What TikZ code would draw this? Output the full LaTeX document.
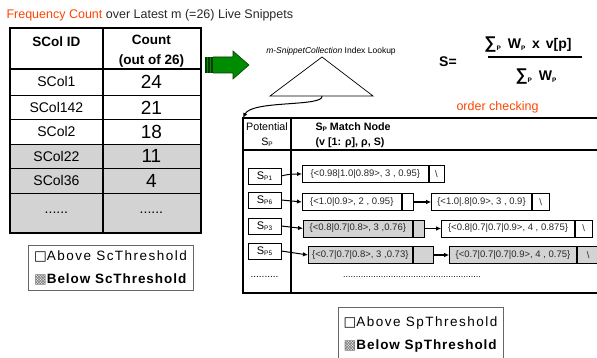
\documentclass[tikz,border=0pt]{standalone}
\usepackage{fontspec}
\setmainfont{Liberation Sans}
\newfontfamily\symbolfont{DejaVu Sans}
\newfontfamily\legendfont[LetterSpace=11,BoldFeatures={LetterSpace=7}]{Liberation Sans}
\usetikzlibrary{arrows.meta, positioning, calc}
\definecolor{titlered}{RGB}{255,69,0}
\definecolor{textgray}{RGB}{40,40,40}
\definecolor{cellgray}{RGB}{211,211,211}
\definecolor{arrowgreen}{RGB}{0,140,0}
\definecolor{arrowdark}{RGB}{0,60,0}
\newcommand{\smallsub}[1]{\raisebox{-1.2pt}{\fontsize{6.5}{6.5}\selectfont #1}}
\newcommand{\bigsum}{{\fontsize{17}{17}\selectfont ∑}}

\begin{document}
\begin{tikzpicture}[x=1pt,y=-1pt, >={Latex[length=5pt,width=4.5pt]},
    cell/.style={draw,line width=0.8pt,anchor=north west,inner sep=0pt,font=\fontsize{14}{16}\selectfont},
    headcell/.style={cell,align=center,font=\bfseries\fontsize{13.5}{20}\selectfont},
    numcell/.style={cell,font=\fontsize{19}{21}\selectfont},
    spbox/.style={draw,line width=0.6pt,minimum width=33pt,minimum height=16pt,inner sep=0pt,font=\fontsize{11}{12}\selectfont},
    rec/.style={draw,line width=0.6pt,minimum height=17pt,inner sep=0pt,anchor=west,text=textgray,font=\fontsize{9.5}{11}\selectfont},
    formula/.style={font=\bfseries\fontsize{14}{16}\selectfont},
    legend/.style={draw=black!60,line width=0.6pt,align=left,inner sep=2pt,minimum width=165pt,font=\legendfont\fontsize{13.5}{23}\selectfont}]

\useasboundingbox (0,0) rectangle (597,358);

% title
\node[anchor=west,text=textgray,font=\fontsize{12.5}{15}\selectfont] (title) at (3,15)
    {\textcolor{titlered}{Frequency Count} over Latest m (=26) Live Snippets};

% frequency table
\node[headcell,minimum width=92pt,minimum height=40pt] (idhead) at (10,28) {\rule{0pt}{16pt}SCol ID\\\mbox{}};
\node[headcell,minimum width=98pt,minimum height=40pt] (cnthead) at (102,28) {\rule{0pt}{16pt}Count\\(out of 26)};
\node[cell,minimum width=92pt,minimum height=27pt] (id1) at (10,68) {SCol1};
\node[numcell,minimum width=98pt,minimum height=27pt] (cnt1) at (102,68) {24};
\node[cell,minimum width=92pt,minimum height=24pt] (id2) at (10,95) {SCol142};
\node[numcell,minimum width=98pt,minimum height=24pt] (cnt2) at (102,95) {21};
\node[cell,minimum width=92pt,minimum height=25pt] (id3) at (10,119) {SCol2};
\node[numcell,minimum width=98pt,minimum height=25pt] (cnt3) at (102,119) {18};
\node[cell,fill=cellgray,minimum width=92pt,minimum height=24pt] (id4) at (10,144) {SCol22};
\node[numcell,fill=cellgray,minimum width=98pt,minimum height=24pt] (cnt4) at (102,144) {11};
\node[cell,fill=cellgray,minimum width=92pt,minimum height=25pt] (id5) at (10,168) {SCol36};
\node[numcell,fill=cellgray,minimum width=98pt,minimum height=25pt] (cnt5) at (102,168) {4};
\node[cell,fill=cellgray,minimum width=92pt,minimum height=39pt] (id6) at (10,193) {......};
\node[cell,fill=cellgray,minimum width=98pt,minimum height=39pt] (cnt6) at (102,193) {......};
\draw[line width=1.5pt] (idhead.north west) rectangle (cnt6.south east);
\draw[line width=1.5pt] (idhead.north east) -- (id6.south east);
\draw[line width=1.5pt] (idhead.south west) -- (cnthead.south east);

\node[legend,minimum height=45pt] (sclegend) at (110.5,267.5)
    {{\symbolfont □}Above ScThreshold\\{\bfseries{\symbolfont\color{black!55}▩}Below ScThreshold}};

% green arrow
\fill[arrowgreen] (205,57) rectangle (213,73);
\fill[arrowdark] (205,57) rectangle (206.5,73);
\fill[arrowdark] (208,57) rectangle (209.5,73);
\fill[arrowdark] (211,57) rectangle (212.5,73);
\draw[fill=arrowgreen,draw=arrowdark,line width=0.6pt] (213,57) -- (233,57) -- (233,51) -- (249,65)
    -- (233,79) -- (233,73) -- (213,73);

% index lookup
\coordinate (apex) at (322,57);
\coordinate (baseleft) at (270,96);
\coordinate (baseright) at (373,96);
\coordinate (tribase) at (322,96);
\draw[line width=0.7pt] (apex) -- (baseleft) -- (baseright) -- cycle;
\node[font=\fontsize{8.5}{10}\selectfont] (lookup) at (331,51) {\itshape m-SnippetCollection\upshape{} Index Lookup};

% score formula
\node[formula] (seq) at (448,62) {S=};
\node[formula] (num) at (528,45) {\bigsum\smallsub{P}\hspace{3pt} W\smallsub{P}\hspace{3pt} x\hspace{2pt} v[p]};
\node[formula] (den) at (536,77) {\bigsum\smallsub{P}\hspace{3pt} W\smallsub{P}};
\draw[line width=1.6pt] (488,57) -- (582,57);

\node[text=titlered,font=\fontsize{12.5}{15}\selectfont] (order) at (497.5,107) {order checking};

% match table
\coordinate (tcorner) at (243,118);
\draw[line width=1.8pt] (597,118) -- (tcorner) -- (243,293) -- (597,293);
\draw[line width=1.8pt] (291,118) -- (291,293);
\draw[line width=1.8pt] (243,150) -- (597,150);
\draw[->,line width=1pt] (tribase) .. controls (324,107) and (252,100) .. (tcorner);

\node[align=center,font=\fontsize{10.7}{15}\selectfont] (pothead) at (267,135) {Potential\\S\smallsub{P}};
\node[anchor=west,align=left,font=\bfseries\fontsize{10.7}{15}\selectfont] (matchhead) at (312,135)
    {S\smallsub{P} Match Node\\(v [1: ρ], ρ, S)};

\node[spbox] (sp1) at (264.5,176) {S\smallsub{P1}};
\node[spbox] (sp6) at (264.5,200) {S\smallsub{P6}};
\node[spbox] (sp3) at (264.5,226) {S\smallsub{P3}};
\node[spbox] (sp5) at (264.5,251) {S\smallsub{P5}};
\node[font=\fontsize{10}{12}\selectfont] (spdots) at (264.5,277) {..........};

\node[rec,minimum width=126pt] (r1a) at (302,174) {\{<0.98|1.0|0.89>, 3 , 0.95\}};
\node[rec,minimum width=15pt,right=0pt of r1a] (r1b) {\textbackslash};

\node[rec,minimum width=99pt] (r2a) at (302,202) {\{<1.0|0.9>, 2 , 0.95\}};
\node[rec,minimum width=11pt,right=0pt of r2a] (r2b) {};
\node[rec,minimum width=100pt,right=18pt of r2b] (r2c) {\{<1.0|.8|0.9>, 3 , 0.9\}};
\node[rec,minimum width=17pt,right=0pt of r2c] (r2d) {\textbackslash};

\node[rec,fill=cellgray,minimum width=109pt] (r3a) at (303,228.5) {\{<0.8|0.7|0.8>, 3 ,0.76\}};
\node[rec,fill=cellgray,minimum width=11pt,right=0pt of r3a] (r3b) {};
\node[rec,minimum width=133pt,right=17pt of r3b] (r3c) {\{<0.8|0.7|0.7|0.9>, 4 , 0.875\}};
\node[rec,minimum width=17pt,right=0pt of r3c] (r3d) {\textbackslash};

\node[rec,fill=cellgray,minimum width=104pt] (r4a) at (308,255) {\{<0.7|0.7|0.8>, 3 ,0.73\}};
\node[rec,fill=cellgray,minimum width=20pt,right=0pt of r4a] (r4b) {};
\node[rec,fill=cellgray,minimum width=127pt,right=16pt of r4b] (r4c) {\{<0.7|0.7|0.7|0.9>, 4 , 0.75\}};
\node[rec,fill=cellgray,minimum width=22pt,right=0pt of r4c] (r4d) {\textbackslash};

\node[font=\fontsize{9}{11}\selectfont] (recdots) at (412,277) {.......................................................};

\draw[->,line width=1pt] (sp1.east) to[out=15,in=180] (r1a.west);
\draw[->,line width=1pt] (sp6.east) -- (r2a.west);
\draw[->,line width=1pt] (sp3.east) -- (r3a.west);
\draw[->,line width=1pt] (sp5.east) -- (r4a.west);
\draw[->,line width=1.4pt] (r2b.east) -- (r2c.west);
\draw[->,line width=1.4pt] (r3b.east) -- (r3c.west);
\draw[->,line width=1.4pt] (r4b.east) -- (r4c.west);

\node[legend,minimum height=55pt] (splegend) at (420.5,334.5)
    {{\symbolfont □}Above SpThreshold\\{\bfseries{\symbolfont\color{black!55}▩}Below SpThreshold}};
\end{tikzpicture}
\end{document}
